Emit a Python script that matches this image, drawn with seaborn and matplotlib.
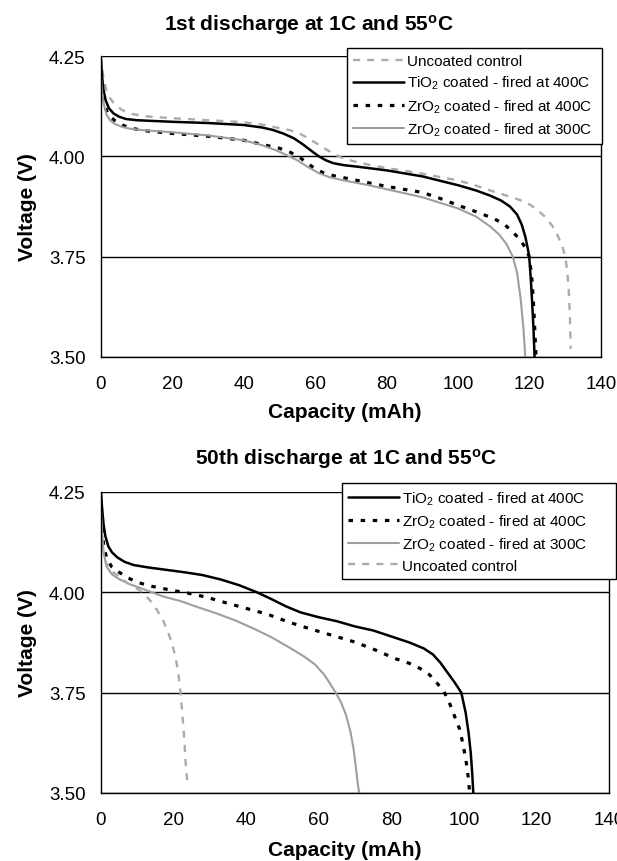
import numpy as np
import pandas as pd
import matplotlib
matplotlib.use("Agg")
import matplotlib.pyplot as plt
import seaborn as sns

# ---------------- data ----------------
# 1st discharge
unc1_x = [0, 0.3, 0.8, 1.5, 2.5, 4, 6, 8, 12, 20, 30, 40, 46, 50, 53, 56, 59, 62, 65, 68, 72, 76, 82, 88, 94, 100, 105, 110, 115, 119, 122, 124.5, 126.5, 128, 129.2, 130, 130.6, 131, 131.3, 131.5]
unc1_y = [4.25, 4.22, 4.19, 4.165, 4.145, 4.128, 4.115, 4.107, 4.10, 4.095, 4.09, 4.085, 4.078, 4.07, 4.065, 4.055, 4.04, 4.023, 4.007, 3.994, 3.985, 3.977, 3.968, 3.96, 3.95, 3.94, 3.927, 3.912, 3.898, 3.886, 3.868, 3.848, 3.825, 3.80, 3.775, 3.75, 3.71, 3.66, 3.60, 3.52]

tio1_x = [0, 0.3, 0.7, 1.3, 2.2, 3.5, 5, 7, 10, 15, 20, 30, 40, 45, 48, 51, 54, 56.5, 59, 61, 63, 65, 68, 72, 80, 90, 100, 105, 109, 112, 114.5, 116.5, 117.8, 118.8, 119.5, 119.9, 120.3, 120.7, 121.1, 121.4]
tio1_y = [4.24, 4.20, 4.165, 4.14, 4.12, 4.107, 4.099, 4.093, 4.09, 4.088, 4.086, 4.083, 4.078, 4.072, 4.066, 4.057, 4.045, 4.03, 4.013, 4.0, 3.99, 3.983, 3.978, 3.974, 3.965, 3.95, 3.928, 3.915, 3.902, 3.89, 3.875, 3.855, 3.83, 3.80, 3.77, 3.75, 3.70, 3.64, 3.57, 3.50]

zr41_x = [0, 0.3, 0.8, 1.5, 2.5, 4, 6, 8, 12, 20, 30, 40, 45, 50, 53, 56, 59, 62, 65, 70, 80, 90, 95, 100, 105, 110, 113, 115.5, 117.5, 119, 119.9, 120.5, 121, 121.4, 121.8]
zr41_y = [4.21, 4.17, 4.14, 4.115, 4.10, 4.088, 4.078, 4.071, 4.064, 4.057, 4.05, 4.04, 4.03, 4.02, 4.01, 3.995, 3.975, 3.96, 3.952, 3.943, 3.925, 3.91, 3.895, 3.878, 3.862, 3.845, 3.83, 3.81, 3.79, 3.77, 3.75, 3.71, 3.65, 3.58, 3.50]

zr31_x = [0, 0.3, 0.8, 1.5, 2.5, 4, 6, 8, 12, 20, 30, 40, 45, 49, 52, 55, 58, 61, 64, 68, 75, 80, 90, 100, 105, 109, 111.5, 113.5, 115.3, 116.5, 117.5, 118.3, 118.8]
zr31_y = [4.20, 4.16, 4.13, 4.105, 4.09, 4.08, 4.073, 4.069, 4.065, 4.06, 4.052, 4.04, 4.028, 4.015, 4.003, 3.99, 3.973, 3.958, 3.948, 3.94, 3.928, 3.918, 3.898, 3.87, 3.85, 3.825, 3.805, 3.782, 3.75, 3.71, 3.645, 3.57, 3.50]

# 50th discharge
tio50_x = [0, 0.3, 0.7, 1.2, 2, 3, 4.5, 6.5, 9, 13, 18, 23, 28, 33, 38, 43, 47, 51, 55, 60, 65, 70, 75, 80, 85, 89, 91.5, 93.5, 95.5, 97.5, 99.3, 100.5, 101.3, 101.9, 102.3, 102.6]
tio50_y = [4.25, 4.21, 4.17, 4.14, 4.115, 4.10, 4.087, 4.076, 4.068, 4.062, 4.056, 4.05, 4.043, 4.032, 4.018, 4.0, 3.983, 3.965, 3.95, 3.938, 3.928, 3.915, 3.905, 3.89, 3.875, 3.86, 3.845, 3.825, 3.80, 3.775, 3.75, 3.70, 3.65, 3.60, 3.55, 3.50]

zr450_x = [0, 0.3, 0.8, 1.8, 3, 5, 7, 10, 14, 19, 24, 29, 34, 40, 46, 52, 58, 64, 70, 76, 81, 85, 88, 90.5, 92.5, 94.5, 96, 97.5, 98.8, 99.8, 100.6, 101.2, 101.6]
zr450_y = [4.22, 4.16, 4.11, 4.08, 4.063, 4.05, 4.038, 4.025, 4.015, 4.006, 3.998, 3.988, 3.975, 3.96, 3.945, 3.925, 3.908, 3.892, 3.876, 3.855, 3.835, 3.823, 3.81, 3.795, 3.775, 3.753, 3.725, 3.69, 3.66, 3.62, 3.58, 3.54, 3.50]

zr350_x = [0, 0.3, 0.7, 1.5, 3, 5, 8, 12, 17, 22, 27, 32, 37, 42, 47, 52, 56, 59, 61.5, 63.3, 64.7, 66.2, 67.5, 68.7, 69.6, 70.3, 70.8, 71.2]
zr350_y = [4.20, 4.15, 4.10, 4.065, 4.045, 4.033, 4.02, 4.007, 3.99, 3.978, 3.962, 3.947, 3.93, 3.91, 3.888, 3.862, 3.84, 3.82, 3.795, 3.77, 3.75, 3.725, 3.695, 3.655, 3.61, 3.56, 3.52, 3.50]

unc50_x = [0, 0.4, 1.3, 3, 5, 7, 9, 11, 12.5, 14, 15.5, 17, 18.3, 19.5, 20.5, 21.3, 21.9, 22.4, 22.9, 23.3, 23.8]
unc50_y = [4.15, 4.11, 4.075, 4.052, 4.04, 4.025, 4.014, 4.003, 3.99, 3.975, 3.955, 3.932, 3.905, 3.875, 3.84, 3.80, 3.75, 3.70, 3.64, 3.58, 3.525]

x_ticks = [0, 20, 40, 60, 80, 100, 120, 140]
y_ticks = [3.50, 3.75, 4.00, 4.25]

lbl_unc = "Uncoated control"
lbl_tio = "TiO$_2$ coated - fired at 400C"
lbl_zr4 = "ZrO$_2$ coated - fired at 400C"
lbl_zr3 = "ZrO$_2$ coated - fired at 300C"

title1 = "1st discharge at 1C and 55$^{\\mathbf{o}}$C"
title2 = "50th discharge at 1C and 55$^{\\mathbf{o}}$C"
xlabel = "Capacity (mAh)"
ylabel = "Voltage (V)"

# ---------------- style ----------------
sns.set_theme(style="white")
plt.rcParams["font.family"] = ["Liberation Sans", "DejaVu Sans"]
plt.rcParams["mathtext.fontset"] = "custom"
plt.rcParams["mathtext.rm"] = "Liberation Sans"
plt.rcParams["mathtext.it"] = "Liberation Sans:italic"
plt.rcParams["mathtext.bf"] = "Liberation Sans:bold"
for k in ["text.color", "axes.labelcolor", "xtick.color", "ytick.color"]:
    plt.rcParams[k] = "black"

styles = {
    lbl_unc: dict(color="#ababab", lw=1.7, linestyle=(0, (3, 3))),
    lbl_tio: dict(color="black", lw=1.8, linestyle="-"),
    lbl_zr4: dict(color="black", lw=2.3, linestyle=(0, (1.4, 2.4))),
    lbl_zr3: dict(color="#9e9e9e", lw=1.5, linestyle="-"),
}

W, H = 617, 862
fig = plt.figure(figsize=(W / 100, H / 100), dpi=100)


def make_df(series):
    frames = []
    for name, xs, ys in series:
        frames.append(pd.DataFrame({"cap": xs, "volt": ys, "series": name}))
    return pd.concat(frames, ignore_index=True)


def panel(rect, series, order, title, title_x, title_y, xl_y, leg_box):
    ax = fig.add_axes(rect)
    df = make_df(series)
    for name in order:
        sub = df[df["series"] == name]
        sns.lineplot(data=sub, x="cap", y="volt", ax=ax, sort=False,
                     estimator=None, label=name, **styles[name])
    ax.set_xlim(0, 140)
    ax.set_ylim(3.50, 4.25)
    ax.set_xticks(x_ticks)
    ax.set_yticks(y_ticks)
    ax.set_yticklabels([f"{v:.2f}" for v in y_ticks])
    ax.yaxis.grid(True, color="black", lw=1.0)
    ax.xaxis.grid(False)
    for s in ax.spines.values():
        s.set_color("black")
        s.set_linewidth(1.0)
    ax.spines["top"].set_visible(False)
    ax.tick_params(axis="both", direction="out", length=7, width=1.0,
                   color="black", labelsize=13.5, labelcolor="black")
    ax.tick_params(axis="y", pad=4)
    ax.tick_params(axis="x", pad=6)
    ax.set_xlabel("")
    ax.set_ylabel(ylabel, fontsize=15, fontweight="bold", labelpad=9)
    fig.text(title_x / W, 1 - title_y / H, title, ha="center", va="center",
             fontsize=15, fontweight="bold")
    fig.text(345 / W, 1 - xl_y / H, xlabel, ha="center", va="center",
             fontsize=15, fontweight="bold")
    handles, labels = ax.get_legend_handles_labels()
    x0, y0, x1, y1 = leg_box
    leg = ax.legend(handles, labels, loc="upper left", mode="expand",
                    bbox_to_anchor=(x0 / W, 1 - y1 / H, (x1 - x0) / W, (y1 - y0) / H),
                    bbox_transform=fig.transFigure, borderaxespad=0,
                    frameon=True, fancybox=False, framealpha=1,
                    edgecolor="black", fontsize=11, handlelength=3.3,
                    handletextpad=0.2, labelspacing=0.38, borderpad=0.4)
    leg.get_frame().set_linewidth(1.0)
    return ax


top_series = [(lbl_unc, unc1_x, unc1_y), (lbl_tio, tio1_x, tio1_y),
              (lbl_zr4, zr41_x, zr41_y), (lbl_zr3, zr31_x, zr31_y)]
bot_series = [(lbl_tio, tio50_x, tio50_y), (lbl_zr4, zr450_x, zr450_y),
              (lbl_zr3, zr350_x, zr350_y), (lbl_unc, unc50_x, unc50_y)]

ax1 = panel([101 / W, 1 - 358 / H, 500 / W, 301 / H], top_series,
            [lbl_unc, lbl_tio, lbl_zr4, lbl_zr3], title1, 309, 25, 412,
            (347, 49, 602, 145))
ax2 = panel([101 / W, 1 - 794 / H, 508 / W, 301 / H], bot_series,
            [lbl_tio, lbl_zr4, lbl_zr3, lbl_unc], title2, 346, 459, 851,
            (342, 484, 616, 582))

fig.savefig("out.png", dpi=100)
